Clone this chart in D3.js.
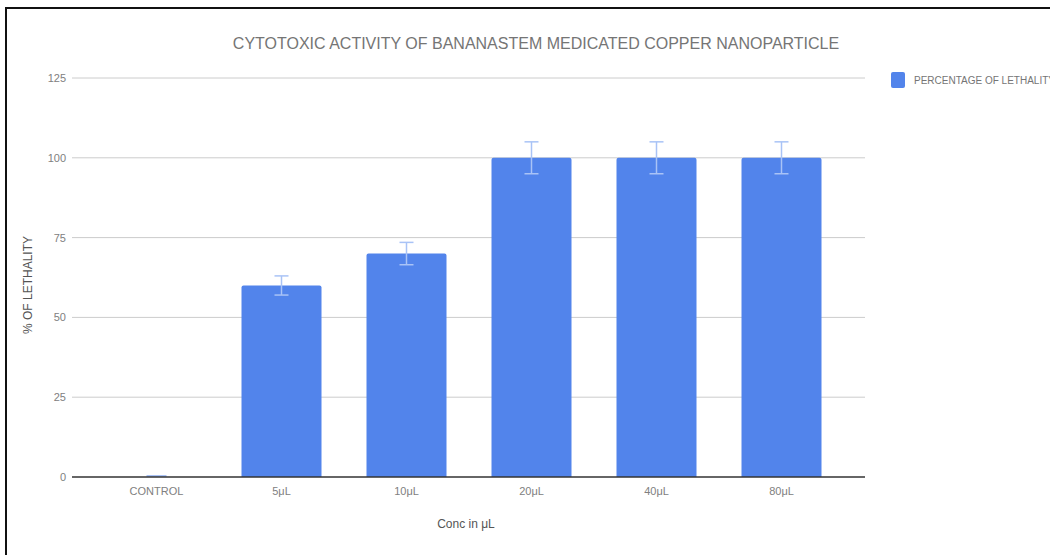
<!DOCTYPE html>
<html>
<head>
<meta charset="utf-8">
<script src="https://d3js.org/d3.v7.min.js"></script>
<style>
  body { margin: 0; background: #fff; }
  text { font-family: "Liberation Sans", Arial, sans-serif; }
</style>
</head>
<body>
<script>
// data
const categories = ['CONTROL', '5μL', '10μL', '20μL', '40μL', '80μL'];
const lethality = [0, 60, 70, 100, 100, 100];
const errors = [0, 3, 3.5, 5, 5, 5];
const yTicks = [0, 25, 50, 75, 100, 125];

const width = 1050, height = 555;
const plotLeft = 72, plotRight = 865, plotTop = 78, plotBottom = 477;

const svg = d3.select('body').append('svg')
    .attr('width', width)
    .attr('height', height);

svg.append('rect')
    .attr('width', width).attr('height', height)
    .attr('fill', '#fff');

// the frame around the screenshot
svg.append('rect')
    .attr('x', 6).attr('y', 8)
    .attr('width', width + 20).attr('height', height + 20)
    .attr('fill', 'none')
    .attr('stroke', '#111')
    .attr('stroke-width', 2);

const x = d3.scaleBand()
    .domain(categories)
    .range([94, 844])
    .paddingInner(0.36)
    .paddingOuter(0.18);

const y = d3.scaleLinear()
    .domain([0, 125])
    .range([plotBottom, plotTop]);

// gridlines
svg.append('g')
  .selectAll('line')
  .data(yTicks.filter(d => d > 0))
  .join('line')
    .attr('x1', plotLeft).attr('x2', plotRight)
    .attr('y1', d => y(d)).attr('y2', d => y(d))
    .attr('stroke', '#cccccc')
    .attr('stroke-width', 1);

// y tick labels
svg.append('g')
  .selectAll('text')
  .data(yTicks)
  .join('text')
    .attr('x', 66)
    .attr('y', d => y(d) + 4)
    .attr('text-anchor', 'end')
    .attr('font-size', 11)
    .attr('fill', '#808080')
    .text(d => d);

// bars
svg.append('g')
  .selectAll('path')
  .data(categories)
  .join('path')
    .attr('fill', '#5284eb')
    .attr('d', (c, i) => {
      const x0 = x(c), w = x.bandwidth();
      const y0 = y(lethality[i]), h = plotBottom - y0;
      const r = Math.min(2, h);
      if (h <= 0) return null;
      return `M${x0},${plotBottom}V${y0 + r}Q${x0},${y0} ${x0 + r},${y0}H${x0 + w - r}Q${x0 + w},${y0} ${x0 + w},${y0 + r}V${plotBottom}Z`;
    });

// control bar is a hairline at zero
svg.append('line')
    .attr('x1', x('CONTROL') + x.bandwidth() / 2 - 10)
    .attr('x2', x('CONTROL') + x.bandwidth() / 2 + 10)
    .attr('y1', plotBottom - 1).attr('y2', plotBottom - 1)
    .attr('stroke', '#5284eb')
    .attr('stroke-width', 1);

// error bars
const eb = svg.append('g')
    .attr('stroke', '#a9c3f6')
    .attr('stroke-width', 1.5)
  .selectAll('g')
  .data(categories.filter((c, i) => errors[i] > 0))
  .join('g');

eb.each(function (c) {
  const i = categories.indexOf(c);
  const cx = x(c) + x.bandwidth() / 2;
  const g = d3.select(this);
  const hi = y(lethality[i] + errors[i]), lo = y(lethality[i] - errors[i]);
  g.append('line').attr('x1', cx).attr('x2', cx).attr('y1', hi).attr('y2', lo);
  g.append('line').attr('x1', cx - 7).attr('x2', cx + 7).attr('y1', hi).attr('y2', hi);
  g.append('line').attr('x1', cx - 7).attr('x2', cx + 7).attr('y1', lo).attr('y2', lo);
});

// baseline
svg.append('line')
    .attr('x1', plotLeft).attr('x2', plotRight)
    .attr('y1', plotBottom).attr('y2', plotBottom)
    .attr('stroke', '#333')
    .attr('stroke-width', 1.5);

// x tick labels
svg.append('g')
  .selectAll('text')
  .data(categories)
  .join('text')
    .attr('x', c => x(c) + x.bandwidth() / 2)
    .attr('y', 495)
    .attr('text-anchor', 'middle')
    .attr('font-size', 11)
    .attr('fill', '#808080')
    .text(c => c);

// title
svg.append('text')
    .attr('x', 536).attr('y', 49)
    .attr('text-anchor', 'middle')
    .attr('font-size', 16)
    .attr('fill', '#757575')
    .text('CYTOTOXIC ACTIVITY OF BANANASTEM MEDICATED COPPER NANOPARTICLE');

// axis titles
svg.append('text')
    .attr('x', 466).attr('y', 528)
    .attr('text-anchor', 'middle')
    .attr('font-size', 12)
    .attr('fill', '#555')
    .text('Conc in μL');

svg.append('text')
    .attr('transform', 'translate(32,285) rotate(-90)')
    .attr('text-anchor', 'middle')
    .attr('font-size', 12)
    .attr('fill', '#555')
    .text('% OF LETHALITY');

// legend
svg.append('rect')
    .attr('x', 891).attr('y', 72)
    .attr('width', 14).attr('height', 16)
    .attr('rx', 2)
    .attr('fill', '#5284eb');

svg.append('text')
    .attr('x', 914).attr('y', 84)
    .attr('font-size', 10)
    .attr('fill', '#757575')
    .text('PERCENTAGE OF LETHALITY');
</script>
</body>
</html>
